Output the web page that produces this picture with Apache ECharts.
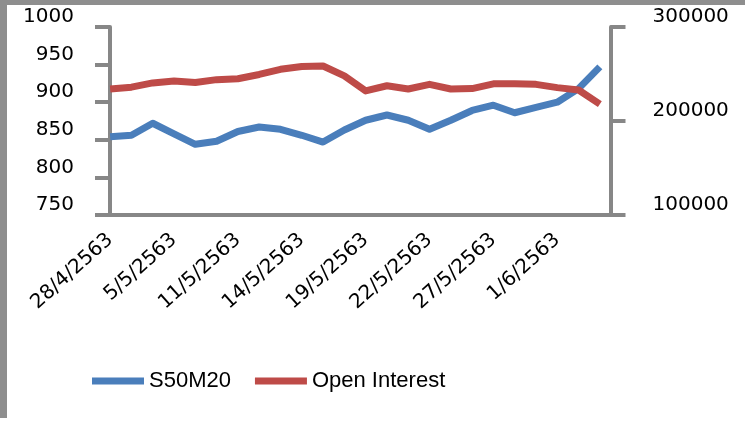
<!DOCTYPE html>
<html>
<head>
<meta charset="utf-8">
<script src="https://cdn.jsdelivr.net/npm/echarts@6/dist/echarts.min.js"></script>
<style>
html,body{margin:0;padding:0;background:#fff;}
#chart{width:750px;height:422px;}
</style>
</head>
<body>
<div id="chart"></div>
<script>
const categories = ['28/4/2563','29/4/2563','30/4/2563','5/5/2563','7/5/2563','8/5/2563','11/5/2563','12/5/2563','13/5/2563','14/5/2563','15/5/2563','18/5/2563','19/5/2563','20/5/2563','21/5/2563','22/5/2563','25/5/2563','26/5/2563','27/5/2563','28/5/2563','29/5/2563','1/6/2563','2/6/2563','4/6/2563'];
const s50m20 = [854, 856, 872, 858, 844, 848, 861, 867, 864, 856, 847, 863, 876, 883, 876, 864, 876, 889, 896, 886, 893, 900, 918, 947];
const openInterest = [234000, 236000, 240500, 242500, 241000, 244000, 245000, 249500, 255000, 258000, 258500, 248000, 232000, 237500, 234000, 239000, 234000, 234500, 239500, 239500, 239000, 235500, 233000, 218000];
const leftTicks = {min: 750, max: 1000, interval: 50};
const rightTicks = {min: 100000, max: 300000, interval: 100000};

const axisGray = '#878787';
const plain = v => String(v);
const chart = echarts.init(document.getElementById('chart'));
chart.setOption({
  animation: false,
  backgroundColor: '#fff',
  graphic: [
    {type: 'rect', shape: {x: 0, y: 0, width: 7, height: 418}, style: {fill: '#8e8e8e'}},
    {type: 'rect', shape: {x: 0, y: 0, width: 745, height: 5}, style: {fill: '#8e8e8e'}}
  ],
  grid: {left: 99.5, width: 511, top: 27, bottom: 207, containLabel: false},
  legend: {
    left: 87, top: 365,
    icon: 'rect', itemWidth: 52, itemHeight: 7, itemGap: 24,
    textStyle: {fontFamily: 'Liberation Sans', fontSize: 22, color: '#000'},
    data: ['S50M20', 'Open Interest']
  },
  xAxis: {
    type: 'category', data: categories, boundaryGap: true,
    axisLine: {lineStyle: {color: axisGray, width: 4}},
    axisTick: {interval: 0, length: 8, lineStyle: {color: axisGray, width: 3}},
    axisLabel: {interval: 2, rotate: 42, margin: 22, fontFamily: 'DejaVu Sans', fontSize: 20, color: '#000'}
  },
  yAxis: [
    {
      type: 'value', position: 'left', offset: -10.5,
      min: leftTicks.min, max: leftTicks.max, interval: leftTicks.interval,
      splitLine: {show: false},
      axisLine: {show: true, lineStyle: {color: axisGray, width: 4}},
      axisTick: {show: true, length: 15, lineStyle: {color: axisGray, width: 4}},
      axisLabel: {formatter: plain, margin: 36, fontFamily: 'DejaVu Sans', fontSize: 20, color: '#000', verticalAlign: 'bottom'}
    },
    {
      type: 'value', position: 'right',
      min: rightTicks.min, max: rightTicks.max, interval: rightTicks.interval,
      splitLine: {show: false},
      axisLine: {show: true, lineStyle: {color: axisGray, width: 4}},
      axisTick: {show: true, length: 15, lineStyle: {color: axisGray, width: 4}},
      axisLabel: {formatter: plain, margin: 42, fontFamily: 'DejaVu Sans', fontSize: 20, color: '#000', verticalAlign: 'bottom'}
    }
  ],
  series: [
    {
      name: 'S50M20', type: 'line', yAxisIndex: 0, data: s50m20,
      showSymbol: false, symbol: 'none',
      lineStyle: {color: '#4a7ebb', width: 7, join: 'round'},
      itemStyle: {color: '#4a7ebb'}
    },
    {
      name: 'Open Interest', type: 'line', yAxisIndex: 1, data: openInterest,
      showSymbol: false, symbol: 'none',
      lineStyle: {color: '#be4b48', width: 7, join: 'round'},
      itemStyle: {color: '#be4b48'}
    }
  ]
});
</script>
</body>
</html>
